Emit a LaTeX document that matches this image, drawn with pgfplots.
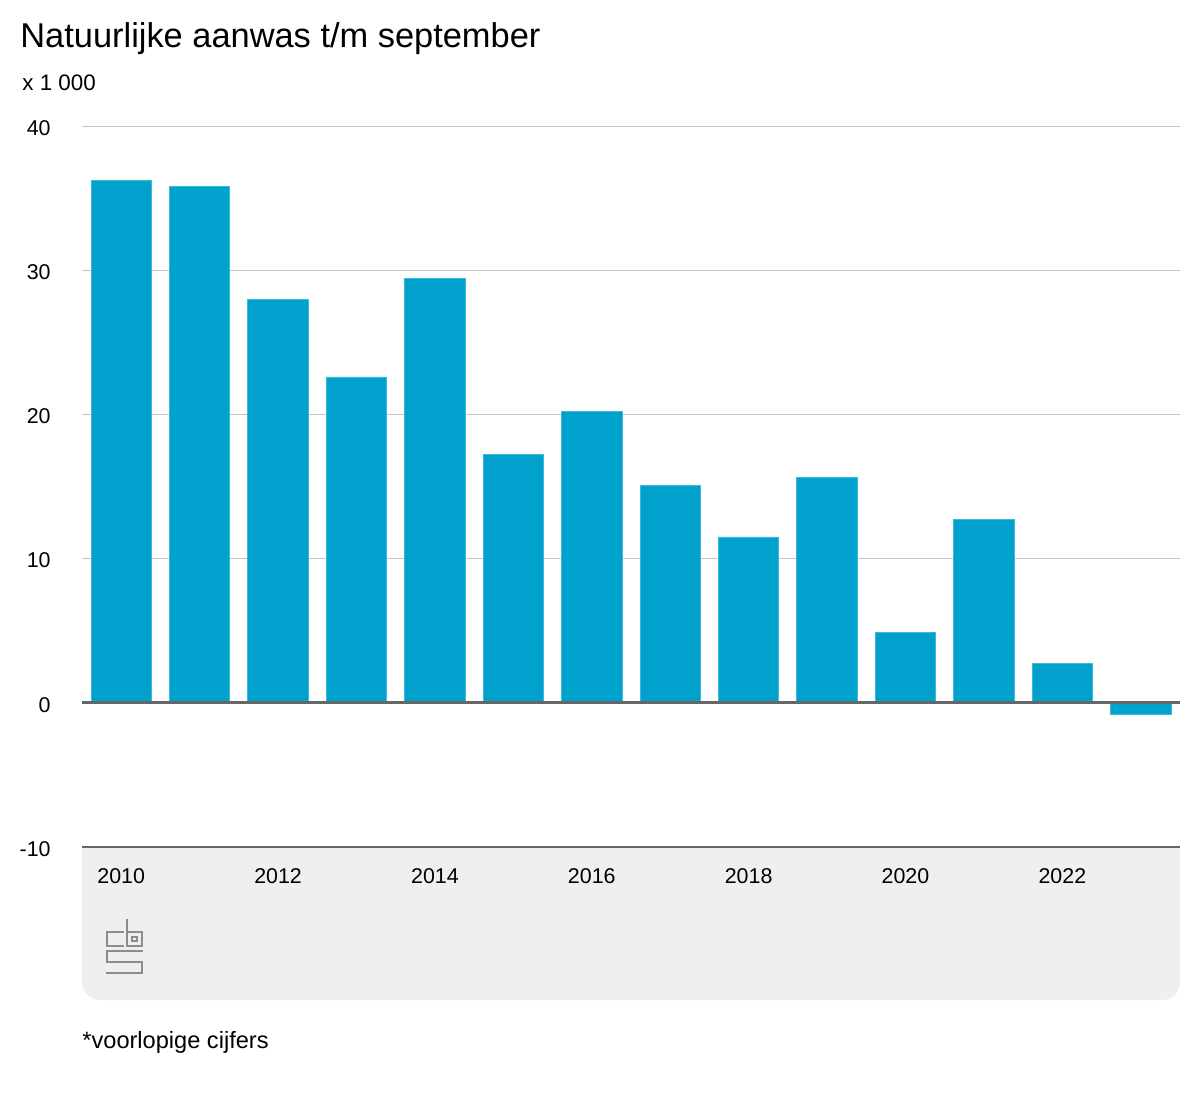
\documentclass[border=0pt]{standalone}
\usepackage{pgfplots}
\pgfplotsset{compat=1.18}
\usepackage{fontspec}
\setmainfont{Liberation Sans}
\definecolor{cbsblue}{HTML}{00A1CD}
\definecolor{boxgray}{HTML}{EFEFEF}
\definecolor{darkline}{HTML}{666666}
\definecolor{gridgray}{HTML}{C4C4C4}
\definecolor{logogray}{HTML}{8C8C8C}
\begin{document}
\begin{tikzpicture}[x=0.5pt,y=-0.5pt]
\useasboundingbox (0,0) rectangle (1200,1100);
% gray box under the x axis
\fill[boxgray] (82,847) [rounded corners=9pt] -- (82,1000) -- (1180,1000) [sharp corners] -- (1180,847) -- cycle;
% title and texts
\node[anchor=base west, inner sep=0pt, font=\fontsize{17.2}{20}\selectfont] at (20,47) {Natuurlijke aanwas t/m september};
\node[anchor=base west, inner sep=0pt, font=\fontsize{11.2}{13}\selectfont] at (22,90) {x 1 000};
\node[anchor=base west, inner sep=0pt, font=\fontsize{11.8}{14}\selectfont] at (82,1048) {*voorlopige cijfers};
% cbs logo (approximation)
\begin{scope}[logogray, line width=0.8pt, double=boxgray, double distance=1.4pt, line cap=rect]
\draw (123,932) -- (107,932) -- (107,946) -- (123,946);
\draw (127,920) -- (127,946) -- (142,946) -- (142,932) -- (127,932);
\draw (132,937) rectangle (137,941);
\draw (142,951) -- (107,951) -- (107,962) -- (142,962) -- (142,973) -- (107,973);
\end{scope}
\begin{axis}[
  at={(41pt,-423.5pt)}, anchor=south west,
  scale only axis, width=549pt, height=360.5pt,
  xmin=-0.5, xmax=13.5, ymin=-10, ymax=40,
  axis line style={draw=none},
  major tick length=0pt,
  xtick={0,2,4,6,8,10,12},
  xticklabels={2010,2012,2014,2016,2018,2020,2022},
  ytick={-10,0,10,20,30,40},
  yticklabels={-10,0,10,20,30,40},
  ymajorgrids, grid style={gridgray, line width=0.45pt},
  tick label style={font=\fontsize{10.7}{12}\selectfont, inner sep=0pt},
  xticklabel style={anchor=center, yshift=-14.5pt},
  yticklabel style={anchor=east, xshift=-15.5pt, yshift=-1pt},
  clip=false,
]
\addplot[ybar, bar width=0.77, fill=cbsblue, draw=cbsblue!75!white, line width=0.4pt]
coordinates {
(0,36.2) (1,35.8) (2,28.0) (3,22.6) (4,29.4) (5,17.2) (6,20.2)
(7,15.1) (8,11.5) (9,15.6) (10,4.9) (11,12.7) (12,2.7) (13,-0.8)
};
\draw[darkline, line width=1.5pt] (axis cs:-0.5,0) -- (axis cs:13.5,0);
\draw[darkline, line width=1.2pt] (axis cs:-0.5,-10) -- (axis cs:13.5,-10);
\end{axis}
\end{tikzpicture}
\end{document}
